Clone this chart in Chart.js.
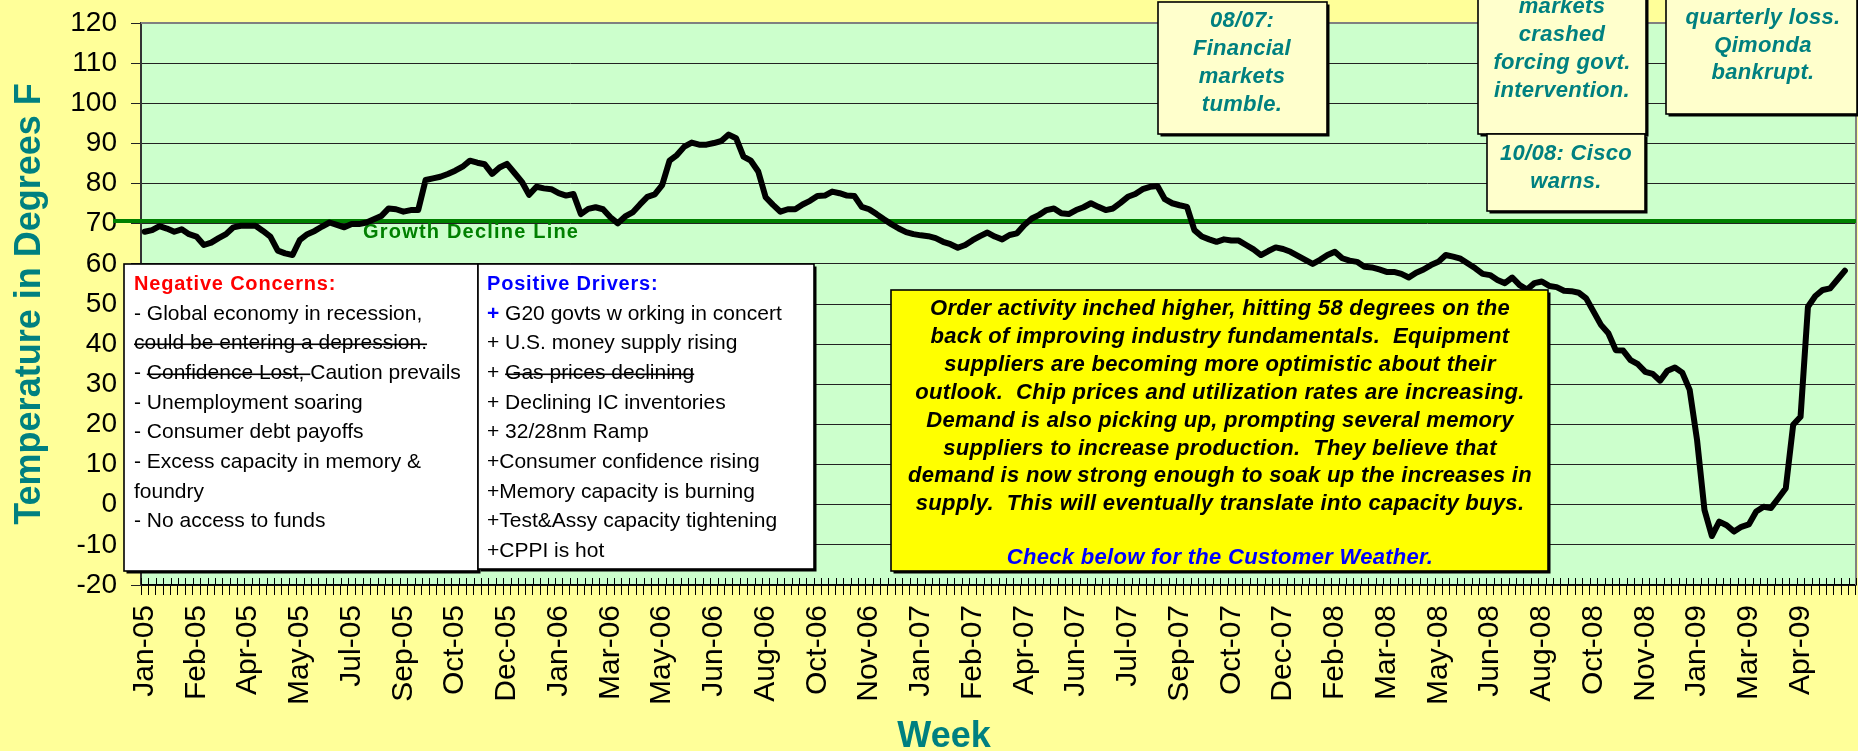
<!DOCTYPE html>
<html><head><meta charset="utf-8">
<script src="https://cdn.jsdelivr.net/npm/chart.js@4.4.0/dist/chart.umd.min.js"></script>
<style>html,body{margin:0;padding:0;background:#FFFF99;overflow:hidden}canvas{display:block}</style>
</head><body>
<canvas id="c" width="1858" height="751"></canvas>
<script>
// ---------- DATA ----------
const tickLabels = ['Jan-05','Feb-05','Apr-05','May-05','Jul-05','Sep-05','Oct-05','Dec-05',
  'Jan-06','Mar-06','May-06','Jun-06','Aug-06','Oct-06','Nov-06',
  'Jan-07','Feb-07','Apr-07','Jun-07','Jul-07','Sep-07','Oct-07','Dec-07',
  'Feb-08','Mar-08','May-08','Jun-08','Aug-08','Oct-08','Nov-08',
  'Jan-09','Mar-09','Apr-09'];
const weeksPerLabel = 7;
const weekCount = 232;
const temperature = [
  68.0,68.4,69.4,68.8,68.0,68.6,67.4,66.8,64.7,65.3,66.4,67.4,69.1,69.5,69.5,69.5,68.2,66.8,63.3,62.6,
  62.2,66.0,67.4,68.2,69.3,70.3,69.7,69.1,69.9,69.9,70.3,71.1,71.9,73.8,73.6,73.0,73.4,73.4,80.9,81.3,
  81.7,82.4,83.2,84.2,85.7,85.2,84.8,82.4,84.0,84.9,82.7,80.5,77.2,79.2,78.8,78.6,77.6,77.0,77.4,72.4,
  73.7,74.1,73.6,71.6,70.1,71.8,72.8,74.8,76.7,77.3,79.6,85.7,87.1,89.2,90.2,89.7,89.7,90.1,90.6,92.2,
  91.3,86.7,85.7,83.0,76.6,74.7,73.0,73.6,73.6,74.8,75.7,76.9,77.0,78.0,77.6,77.0,76.9,74.2,73.6,72.4,
  71.1,69.9,68.8,67.9,67.4,67.1,66.9,66.4,65.5,64.9,64.0,64.7,65.9,66.9,67.8,66.8,66.1,67.2,67.6,69.7,
  71.3,72.2,73.4,73.8,72.6,72.4,73.4,74.1,75.1,74.2,73.4,73.8,75.2,76.7,77.4,78.6,79.2,79.4,76.1,75.1,
  74.6,74.2,68.4,66.8,66.1,65.5,66.1,65.8,65.8,64.7,63.6,62.2,63.2,64.1,63.7,63.0,62.0,61.0,60.0,61.0,
  62.2,63.0,61.4,60.8,60.5,59.3,59.1,58.6,58.0,58.0,57.5,56.6,57.8,58.6,59.7,60.5,62.2,61.8,61.3,60.1,
  58.9,57.5,57.2,56.0,55.2,56.6,54.7,53.6,55.2,55.6,54.5,54.2,53.3,53.2,52.8,51.4,48.1,44.8,42.7,38.5,
  38.4,36.0,35.0,33.1,32.6,30.9,33.4,34.2,32.9,28.6,16.1,-1.3,-7.8,-4.2,-5.1,-6.7,-5.5,-4.9,-1.7,-0.5,
  -0.8,1.6,4.1,19.9,21.9,49.3,52.0,53.5,53.9,56.1,58.3];
const growthLine = [70.7];
const yMin = -20, yMax = 120, yStep = 10;

// ---------- TEXTS ----------
const negativeTitle = 'Negative Concerns:';
const negativeLines = [
  [{t:'- Global economy in recession,'}],
  [{t:'could be entering a depression.', s:1}],
  [{t:'- '},{t:'Confidence Lost, ', s:1},{t:'Caution prevails'}],
  [{t:'- Unemployment soaring'}],
  [{t:'- Consumer debt payoffs'}],
  [{t:'- Excess capacity in memory &'}],
  [{t:'foundry'}],
  [{t:'- No access to funds'}]
];
const positiveTitle = 'Positive Drivers:';
const positiveLines = [
  [{t:'+', c:'#0000FF', b:1},{t:' G20 govts w orking in concert'}],
  [{t:'+ U.S. money supply rising'}],
  [{t:'+ '},{t:'Gas prices declining', s:1}],
  [{t:'+ Declining IC inventories'}],
  [{t:'+ 32/28nm Ramp'}],
  [{t:'+Consumer confidence rising'}],
  [{t:'+Memory capacity is burning'}],
  [{t:'+Test&Assy capacity tightening'}],
  [{t:'+CPPI is hot'}]
];
const summaryLines = [
  'Order activity inched higher, hitting 58 degrees on the',
  'back of improving industry fundamentals.  Equipment',
  'suppliers are becoming more optimistic about their',
  'outlook.  Chip prices and utilization rates are increasing.',
  'Demand is also picking up, prompting several memory',
  'suppliers to increase production.  They believe that',
  'demand is now strong enough to soak up the increases in',
  'supply.  This will eventually translate into capacity buys.'
];
const summaryLink = 'Check below for the Customer Weather.';
const notes = [
  {box:[1158,2,169,132], cx:1242, lines:['08/07:','Financial','markets','tumble.'], ys:[21,49,77,105]},
  {box:[1478,-20,168,154], cx:1562, lines:['markets','crashed','forcing govt.','intervention.'], ys:[7,35,63,91]},
  {box:[1487,134,158,77], cx:1566, lines:['10/08: Cisco','warns.'], ys:[154,182]},
  {box:[1666,-20,191,134], cx:1763, lines:['quarterly loss.','Qimonda','bankrupt.'], ys:[18,46,73]}
];

const categories = Array.from({length: weekCount}, (_, i) =>
  (i % weeksPerLabel === 0 && i / weeksPerLabel < tickLabels.length) ? tickLabels[i / weeksPerLabel] : '');

const FONT = '"Liberation Sans", Arial, Helvetica, sans-serif';

function drawBox(ctx, x, y, w, h, fill) {
  ctx.fillStyle = '#000';
  ctx.fillRect(x + 2.5, y + 2.5, w, h);
  ctx.fillStyle = fill;
  ctx.fillRect(x, y, w, h);
  ctx.strokeStyle = '#000';
  ctx.lineWidth = 1.6;
  ctx.strokeRect(x, y, w, h);
}
function drawSegs(ctx, segs, x, y, size) {
  let cx = x;
  for (const s of segs) {
    ctx.font = (s.b ? 'bold ' : '') + size + 'px ' + FONT;
    ctx.fillStyle = s.c || '#000';
    ctx.fillText(s.t, cx, y);
    const w = ctx.measureText(s.t).width;
    if (s.s) { ctx.fillStyle = '#000'; ctx.fillRect(cx, y + 0.5, w, 1.6); }
    cx += w;
  }
}

const deco = {
  id: 'deco',
  beforeDraw(chart) {
    const {ctx, chartArea: a} = chart;
    ctx.save();
    ctx.fillStyle = '#FFFF99';
    ctx.fillRect(0, 0, chart.width, chart.height);
    ctx.fillStyle = '#CCFFCC';
    ctx.fillRect(a.left, a.top, a.right - a.left, a.bottom - a.top);
    ctx.restore();
  },
  beforeDatasetsDraw(chart) {
    const {ctx, chartArea: a, scales} = chart;
    ctx.save();
    ctx.strokeStyle = '#808080'; ctx.lineWidth = 2;
    ctx.beginPath(); ctx.moveTo(a.right, a.top); ctx.lineTo(a.right, a.bottom); ctx.stroke();
    ctx.beginPath(); ctx.moveTo(a.left, a.top); ctx.lineTo(a.right, a.top); ctx.stroke();
    ctx.strokeStyle = '#000'; ctx.lineWidth = 1;
    for (let i = 0; i <= weekCount; i++) {
      const x = Math.round(scales.x.getPixelForValue(i - 0.5)) + 0.5;
      ctx.beginPath(); ctx.moveTo(x, a.bottom - 7); ctx.lineTo(x, a.bottom); ctx.stroke();
    }
    const gy = scales.y.getPixelForValue(growthLine[0]);
    ctx.strokeStyle = '#008000'; ctx.lineWidth = 4;
    ctx.beginPath(); ctx.moveTo(a.left - 28, gy); ctx.lineTo(a.right, gy); ctx.stroke();
    ctx.font = 'bold 20px ' + FONT;
    if ('letterSpacing' in ctx) ctx.letterSpacing = '1.2px';
    ctx.fillStyle = '#008000'; ctx.textBaseline = 'middle'; ctx.textAlign = 'left';
    ctx.fillText('Growth Decline Line', 363, gy + 12);
    ctx.restore();
  },
  afterDraw(chart) {
    const {ctx} = chart;
    ctx.save();
    ctx.textBaseline = 'middle';
    drawBox(ctx, 124, 264, 354, 307, '#FFFFFF');
    drawBox(ctx, 478, 264, 336, 305, '#FFFFFF');
    const rowY = [314, 343, 373, 403, 432, 462, 492, 521, 551];
    ctx.textAlign = 'left';
    if ('letterSpacing' in ctx) ctx.letterSpacing = '0.8px';
    ctx.font = 'bold 20px ' + FONT;
    ctx.fillStyle = '#FF0000'; ctx.fillText(negativeTitle, 134, 284);
    ctx.fillStyle = '#0000FF'; ctx.fillText(positiveTitle, 487, 284);
    if ('letterSpacing' in ctx) ctx.letterSpacing = '0px';
    negativeLines.forEach((l, i) => drawSegs(ctx, l, 134, rowY[i], 21));
    positiveLines.forEach((l, i) => drawSegs(ctx, l, 487, rowY[i], 21));
    drawBox(ctx, 891, 290, 657, 281, '#FFFF00');
    ctx.textAlign = 'center';
    if ('letterSpacing' in ctx) ctx.letterSpacing = '0.3px';
    ctx.font = 'italic bold 22px ' + FONT;
    ctx.fillStyle = '#000';
    summaryLines.forEach((l, i) => ctx.fillText(l, 1220, 309 + i * 27.9));
    ctx.fillStyle = '#0000FF';
    ctx.fillText(summaryLink, 1220, 558);
    notes.forEach(n => {
      drawBox(ctx, n.box[0], n.box[1], n.box[2], n.box[3], '#FFFFCC');
      ctx.fillStyle = '#008080';
      n.lines.forEach((l, i) => ctx.fillText(l, n.cx, n.ys[i]));
    });
    if ('letterSpacing' in ctx) ctx.letterSpacing = '0px';
    ctx.font = 'bold 36px ' + FONT;
    ctx.fillStyle = '#008080';
    ctx.textBaseline = 'alphabetic';
    ctx.fillText('Week', 944, 747);
    ctx.restore();
  }
};

new Chart(document.getElementById('c'), {
  type: 'line',
  data: {
    labels: categories,
    datasets: [{
      data: temperature, borderColor: '#000', borderWidth: 6, pointRadius: 0,
      tension: 0, fill: false, borderJoinStyle: 'round', borderCapStyle: 'round'
    }]
  },
  options: {
    responsive: false, animation: false, devicePixelRatio: 1,
    layout: {padding: {left: 0, top: 23, right: 2, bottom: 0}},
    plugins: {legend: {display: false}, tooltip: {enabled: false}},
    scales: {
      x: {
        type: 'category', offset: true,
        grid: {display: true, drawOnChartArea: false, drawTicks: true, tickLength: 10, color: '#000', lineWidth: 1, offset: true},
        border: {display: true, color: '#000', width: 1.5},
        ticks: {autoSkip: false, maxRotation: 90, minRotation: 90, padding: 10, color: '#000',
          font: {family: FONT, size: 30}, callback: (v, i) => categories[i]},
        afterFit(s) { s.height = 166; s.paddingLeft = 0; s.paddingRight = 0; }
      },
      y: {
        min: yMin, max: yMax,
        ticks: {stepSize: yStep, color: '#000', padding: 14, font: {family: FONT, size: 28}},
        grid: {color: '#222', lineWidth: 1, tickLength: 10, drawTicks: true},
        border: {display: true, color: '#333', width: 2},
        title: {display: true, text: 'Temperature in Degrees F', color: '#008080',
          font: {family: FONT, size: 36, weight: 'bold'}, padding: {top: 8, bottom: 0}},
        afterFit(s) { s.width = 141; s.paddingTop = 0; s.paddingBottom = 0; }
      }
    }
  },
  plugins: [deco]
});
</script>
</body></html>
